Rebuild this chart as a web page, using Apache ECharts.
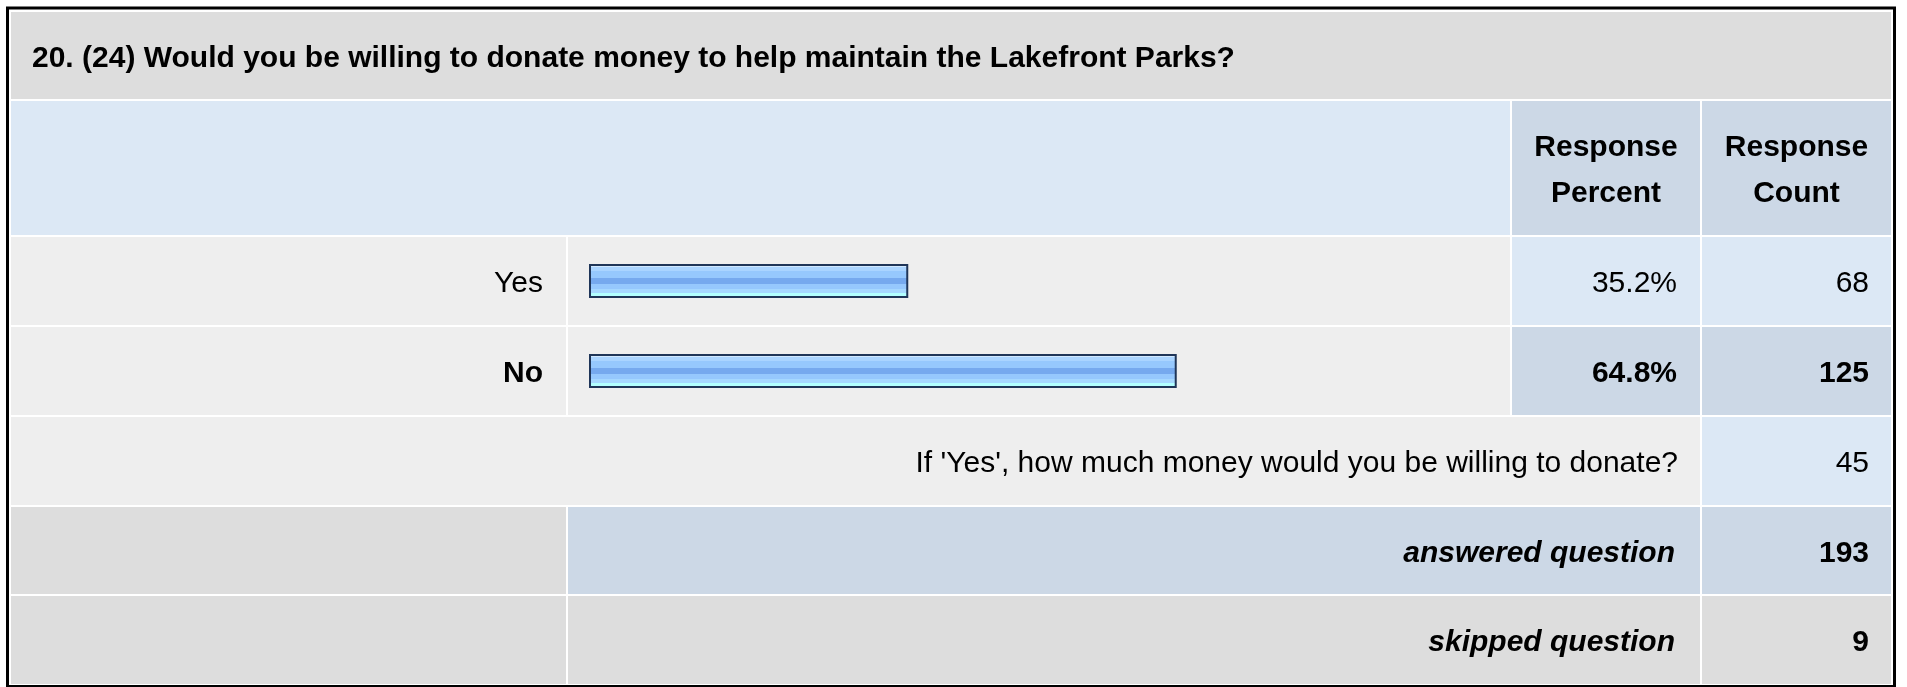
<!DOCTYPE html>
<html>
<head>
<meta charset="utf-8">
<title>Lakefront Parks donation</title>
<script src="https://cdn.jsdelivr.net/npm/echarts@6/dist/echarts.min.js"></script>
<style>
  html, body { margin: 0; padding: 0; background: #fff; }
  #chart { width: 1907px; height: 687px; }
</style>
</head>
<body>
<div id="chart"></div>
<script>
const questionTitle = '20. (24) Would you be willing to donate money to help maintain the Lakefront Parks?'
const headerLabels = ['Response\nPercent', 'Response\nCount']
const answerChoices = ['Yes', 'No']
const responsePercent = [35.2, 64.8]
const responseCount = [68, 125]
const otherLabel = "If 'Yes', how much money would you be willing to donate?"
const otherCount = 45
const summaryLabels = ['answered question', 'skipped question']
const summaryCounts = [193, 9]

const FONT = "'Liberation Sans', Arial, Helvetica, sans-serif"
const GREY = '#dddddd'
const LIGHT = '#eeeeee'
const BLUE = '#dce8f5'
const BLUE_DARK = '#ccd8e6'

// table layout: column [left, right], row top/bottom
const cols = { label: [11, 566], bar: [568, 1510], pct: [1512, 1700], cnt: [1702, 1891] }
const rowTop = [12, 101, 237, 327, 417, 507, 596]
const rowBottom = [99, 235, 325, 415, 505, 594, 684]
const PCT_RIGHT = 1677
const CNT_RIGHT = 1869

const maxIdx = responsePercent.indexOf(Math.max(...responsePercent))

const cell = (x0, x1, row, color) => ({
  type: 'rect',
  silent: true,
  z: 0,
  shape: { x: x0, y: rowTop[row], width: x1 - x0, height: rowBottom[row] - rowTop[row] },
  style: { fill: color },
})

const text = (str, x, row, opts = {}) => ({
  type: 'text',
  silent: true,
  z: 5,
  style: {
    text: str,
    x: x,
    y: (rowTop[row] + rowBottom[row]) / 2 + 3,
    fill: '#000',
    fontFamily: FONT,
    fontSize: 30,
    fontWeight: opts.bold ? 'bold' : 'normal',
    fontStyle: opts.italic ? 'italic' : 'normal',
    lineHeight: opts.lineHeight || 34,
    align: opts.align || 'right',
    verticalAlign: 'middle',
  },
})

const buildGraphics = () => {
  const g = []
  // title + header rows
  g.push(cell(cols.label[0], cols.cnt[1], 0, GREY))
  g.push(cell(cols.label[0], cols.bar[1], 1, BLUE))
  g.push(cell(cols.pct[0], cols.pct[1], 1, BLUE_DARK))
  g.push(cell(cols.cnt[0], cols.cnt[1], 1, BLUE_DARK))
  g.push(text(questionTitle, 32, 0, { bold: true, align: 'left' }))
  g.push(text(headerLabels[0], (cols.pct[0] + cols.pct[1]) / 2, 1, { bold: true, align: 'center', lineHeight: 46 }))
  g.push(text(headerLabels[1], (cols.cnt[0] + cols.cnt[1]) / 2, 1, { bold: true, align: 'center', lineHeight: 46 }))

  // answer rows
  answerChoices.forEach((name, i) => {
    const row = 2 + i
    const hi = i === maxIdx
    g.push(cell(cols.label[0], cols.label[1], row, LIGHT))
    g.push(cell(cols.bar[0], cols.bar[1], row, LIGHT))
    g.push(cell(cols.pct[0], cols.pct[1], row, hi ? BLUE_DARK : BLUE))
    g.push(cell(cols.cnt[0], cols.cnt[1], row, hi ? BLUE_DARK : BLUE))
    g.push(text(responsePercent[i].toFixed(1) + '%', PCT_RIGHT, row, { bold: hi }))
    g.push(text(String(responseCount[i]), CNT_RIGHT, row, { bold: hi }))
  })

  // other (please specify) row
  g.push(cell(cols.label[0], cols.pct[1], 4, LIGHT))
  g.push(cell(cols.cnt[0], cols.cnt[1], 4, BLUE))
  g.push(text(otherLabel, PCT_RIGHT + 1, 4))
  g.push(text(String(otherCount), CNT_RIGHT, 4))

  // summary rows
  g.push(cell(cols.label[0], cols.label[1], 5, GREY))
  g.push(cell(cols.bar[0], cols.pct[1], 5, BLUE_DARK))
  g.push(cell(cols.cnt[0], cols.cnt[1], 5, BLUE_DARK))
  g.push(cell(cols.label[0], cols.label[1], 6, GREY))
  g.push(cell(cols.bar[0], cols.pct[1], 6, GREY))
  g.push(cell(cols.cnt[0], cols.cnt[1], 6, GREY))
  summaryLabels.forEach((s, i) => {
    g.push(text(s, PCT_RIGHT - 2, 5 + i, { bold: true, italic: true }))
    g.push(text(String(summaryCounts[i]), CNT_RIGHT, 5 + i, { bold: true }))
  })

  // outer frame
  g.push({
    type: 'rect',
    silent: true,
    z: 6,
    shape: { x: 7.5, y: 8, width: 1887, height: 678.5 },
    style: { fill: 'none', stroke: '#000', lineWidth: 3 },
  })
  return g
}

const barFill = new echarts.graphic.LinearGradient(0, 0, 0, 1, [
  { offset: 0, color: '#d0e8ff' },
  { offset: 0.08, color: '#d0e8ff' },
  { offset: 0.08, color: '#aad4ff' },
  { offset: 0.21, color: '#aad4ff' },
  { offset: 0.21, color: '#96c8fd' },
  { offset: 0.4, color: '#96c8fd' },
  { offset: 0.4, color: '#76a9ee' },
  { offset: 0.58, color: '#76a9ee' },
  { offset: 0.58, color: '#96c8fd' },
  { offset: 0.74, color: '#96c8fd' },
  { offset: 0.74, color: '#a6d8ff' },
  { offset: 0.84, color: '#a6d8ff' },
  { offset: 0.84, color: '#b2ffff' },
  { offset: 1, color: '#b2ffff' },
])

const buildOption = () => ({
  backgroundColor: '#ffffff',
  animation: false,
  graphic: { elements: buildGraphics() },
  grid: { left: 589, top: 236, width: 907, height: 180, outerBoundsMode: 'none' },
  xAxis: { type: 'value', min: 0, max: 100, show: false },
  yAxis: {
    type: 'category',
    inverse: true,
    data: answerChoices,
    axisLine: { show: false },
    axisTick: { show: false },
    splitLine: { show: false },
    axisLabel: {
      margin: 46,
      padding: [6, 0, 0, 0],
      formatter: (v, i) => (i === maxIdx ? `{b|${v}}` : `{n|${v}}`),
      rich: {
        n: { fontFamily: FONT, fontSize: 30, color: '#000' },
        b: { fontFamily: FONT, fontSize: 30, fontWeight: 'bold', color: '#000' },
      },
    },
  },
  series: [
    {
      type: 'bar',
      data: responsePercent,
      barWidth: 34,
      silent: true,
      z: 3,
      itemStyle: { color: barFill, borderColor: '#1f3558', borderWidth: 2 },
      emphasis: { disabled: true },
    },
  ],
})

const chart = echarts.init(document.getElementById('chart'))
chart.setOption(buildOption())
window.addEventListener('resize', () => chart.resize())
</script>
</body>
</html>
